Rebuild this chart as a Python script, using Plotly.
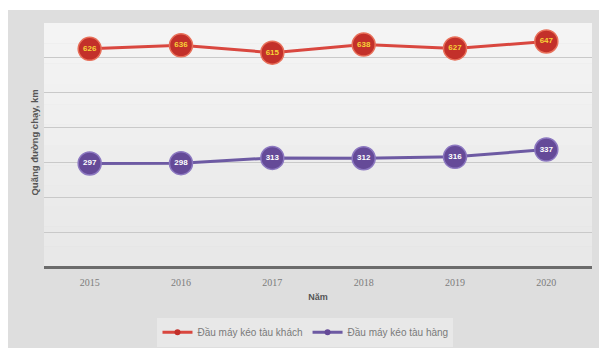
import plotly.graph_objects as go

years = ["2015", "2016", "2017", "2018", "2019", "2020"]
khach = [626, 636, 615, 638, 627, 647]   # Đầu máy kéo tàu khách
hang = [297, 298, 313, 312, 316, 337]    # Đầu máy kéo tàu hàng

name_khach = "Đầu máy kéo tàu khách"
name_hang = "Đầu máy kéo tàu hàng"

red_line = "#d9473f"
red_fill = "#c3302a"
red_text = "#f7d238"
pur_line = "#6d5aa3"
pur_fill = "#654a98"

fig = go.Figure()

fig.add_trace(go.Scatter(
    x=years, y=khach, mode="lines+markers+text", showlegend=False,
    line=dict(color=red_line, width=3),
    marker=dict(size=23, color=red_fill, line=dict(color="#e8705a", width=1.5)),
    text=[str(v) for v in khach], textposition="middle center",
    textfont=dict(family="Liberation Sans", size=8, color=red_text, weight="bold"),
))
fig.add_trace(go.Scatter(
    x=years, y=hang, mode="lines+markers+text", showlegend=False,
    line=dict(color=pur_line, width=3),
    marker=dict(size=23, color=pur_fill, line=dict(color="#8c78c0", width=1.5)),
    text=[str(v) for v in hang], textposition="middle center",
    textfont=dict(family="Liberation Sans", size=8, color="#ffffff", weight="bold"),
))

# legend entries with small symbols
fig.add_trace(go.Scatter(x=[None], y=[None], mode="lines+markers", name=name_khach,
                         line=dict(color=red_line, width=3), marker=dict(size=6, color=red_fill)))
fig.add_trace(go.Scatter(x=[None], y=[None], mode="lines+markers", name=name_hang,
                         line=dict(color=pur_line, width=3), marker=dict(size=6, color=pur_fill)))

# outer frame plus a soft vertical shading of the plotting area
shapes = [
    dict(type="rect", xref="paper", yref="paper", x0=-36 / 548, x1=1 + 7 / 548,
         y0=-81 / 244, y1=1 + 13 / 244, fillcolor="#dedede", line=dict(width=0), layer="below"),
]
bands = 12
for i in range(bands):
    t = i / (bands - 1)
    g = int(round(244 - 12 * (1 - t)))
    shapes.append(dict(type="rect", xref="paper", yref="paper", x0=0, x1=1,
                       y0=i / bands, y1=(i + 1) / bands,
                       fillcolor=f"rgb({g},{g},{g})", line=dict(width=0), layer="below"))

fig.update_layout(
    width=599, height=348,
    margin=dict(l=44, r=7, t=23, b=81, autoexpand=False),
    paper_bgcolor="#ffffff",
    plot_bgcolor="#ededed",
    showlegend=True,
    legend=dict(orientation="h", x=0.51, xanchor="center", xref="container",
                y=0.045, yanchor="middle", yref="container",
                bgcolor="#e8e8e8", font=dict(family="Liberation Sans", size=10, color="#7a7a7a"),
                itemwidth=30, tracegroupgap=0, borderwidth=0),
    xaxis=dict(type="category", range=[-0.5, 5.5], showgrid=False, zeroline=False,
               showline=False, ticks="outside", ticklen=6, tickcolor="rgba(0,0,0,0)",
               automargin=False,
               tickfont=dict(family="Liberation Serif", size=10, color="#7c7c7c"),
               title=dict(text="<b>Năm</b>", font=dict(family="Liberation Sans", size=9, color="#555555"),
                          standoff=6)),
    yaxis=dict(range=[0, 700], dtick=100, showticklabels=False, ticks="", automargin=False,
               showgrid=True, gridcolor="#c9c9c9", gridwidth=1,
               zeroline=True, zerolinecolor="#6b6b6b", zerolinewidth=3),
    shapes=shapes,
    annotations=[
        dict(text="<b>Quãng đường chạy, km</b>", xref="paper", yref="paper",
             x=-9 / 548, y=0.51, textangle=-90, showarrow=False, xanchor="center", yanchor="middle",
             font=dict(family="Liberation Sans", size=9.5, color="#555555")),
    ],
)

fig.write_html("out.html")
